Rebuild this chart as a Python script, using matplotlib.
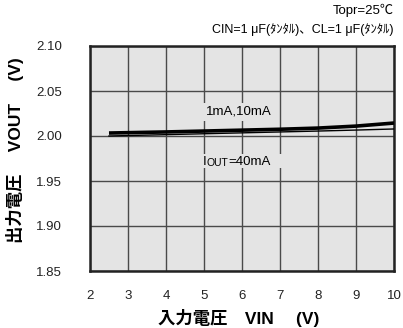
import numpy as np
import matplotlib.pyplot as plt
from matplotlib.patches import Rectangle

plt.rcParams['font.family'] = ['Liberation Sans', 'Noto Sans CJK JP', 'DejaVu Sans']

# data
vin = [2.5, 3, 4, 5, 6, 7, 8, 9, 10]
vout_1ma_10ma = [2.0033, 2.0037, 2.0045, 2.0055, 2.0065, 2.0075, 2.0088, 2.0110, 2.0144]
vout_40ma = [2.0000, 2.0005, 2.0015, 2.0025, 2.0035, 2.0045, 2.0055, 2.0066, 2.0078]

xticks = [2, 3, 4, 5, 6, 7, 8, 9, 10]
yticks = [1.85, 1.90, 1.95, 2.00, 2.05, 2.10]

bg = '#e4e4e4'
fig = plt.figure(figsize=(4.03, 3.28), dpi=100)
ax = fig.add_axes([90/403, 57/328, 304/403, 225/328])
ax.set_facecolor(bg)

ax.plot(vin, vout_1ma_10ma, color='black', lw=2.6, solid_capstyle='butt', zorder=4)
ax.plot(vin, vout_40ma, color='black', lw=1.0, zorder=4)

ax.set_xlim(2, 10)
ax.set_ylim(1.85, 2.10)
ax.set_xticks(xticks)
ax.set_yticks(yticks)
ax.set_xticklabels([str(t) for t in xticks])
ax.set_yticklabels([f"{t:.2f}" for t in yticks])
ax.grid(True, color='#4a4a4a', lw=1.0, zorder=1)
ax.set_axisbelow(True)
ax.tick_params(length=0, labelsize=9.5, pad=14, colors='#222222')
ax.tick_params(axis='y', pad=20)
for s in ax.spines.values():
    s.set_linewidth(1.8)
    s.set_color('#222222')

box = dict(facecolor=bg, edgecolor='none', pad=2.5)
ax.text(5.92, 2.0267, '1mA,10mA', fontsize=9.5, ha='center', va='center',
        bbox=box, zorder=3)
# gap in the grid behind the IOUT label, then the label in pieces
ax.add_patch(Rectangle((4.88, 1.9645), 2.25, 0.016, facecolor=bg,
                       edgecolor='none', zorder=2))
t1 = ax.text(4.98, 1.9677, 'I', fontsize=9.5, ha='left', va='baseline', zorder=5)
t2 = ax.annotate('OUT', xy=(1, 0), xycoords=t1, fontsize=7.5, va='bottom',
                 ha='left', zorder=5)
ax.annotate('=40mA', xy=(1, 0), xycoords=t2, fontsize=9.5, va='bottom',
            ha='left', zorder=5)

# header texts
fig.text(394/403, 1 - 10/328, 'Topr=25℃', fontsize=9.5, ha='right', va='center')
fig.text(394/403, 1 - 30/328, 'CIN=1 μF(ﾀﾝﾀﾙ)、CL=1 μF(ﾀﾝﾀﾙ)', fontsize=9,
         ha='right', va='center')

ax.set_xlabel('入力電圧　VIN　 (V)', fontsize=12.5, fontweight='bold')
ax.set_ylabel('出力電圧　 VOUT　 (V)', fontsize=12.5, fontweight='bold')
ax.xaxis.set_label_coords(148.5/304, -47/225)
ax.xaxis.label.set_va('center')
ax.yaxis.set_label_coords(-75/304, 121/225)
ax.yaxis.label.set_va('center')

fig.savefig('out.png', dpi=100, facecolor='white')
